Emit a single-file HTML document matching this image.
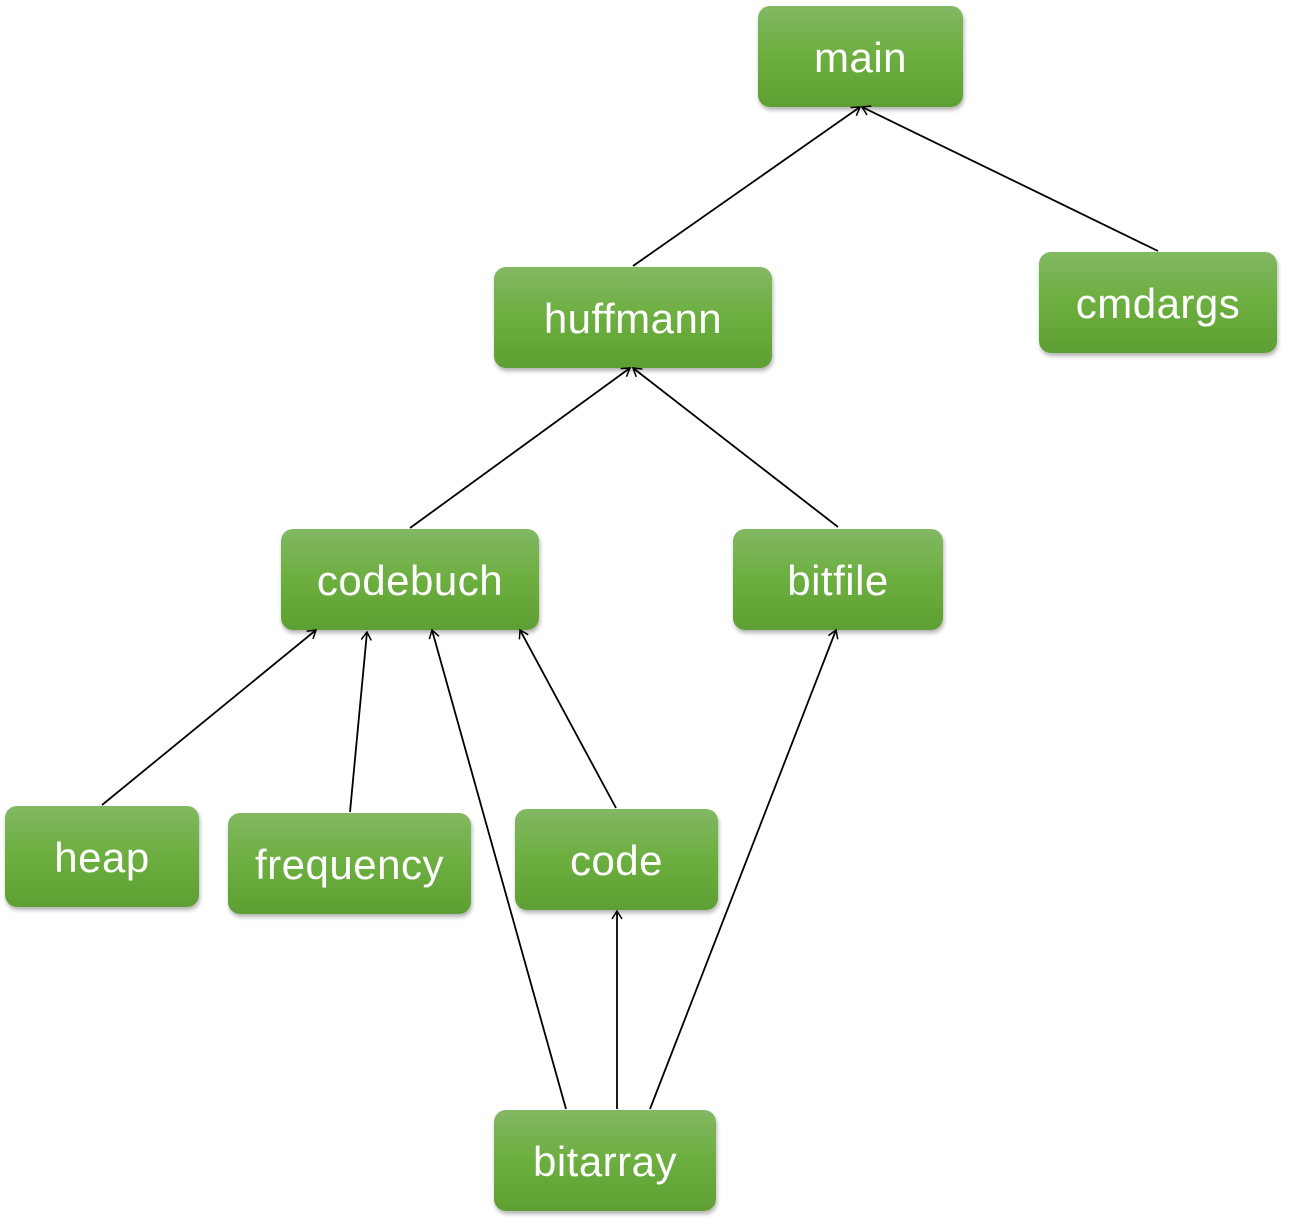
<!DOCTYPE html>
<html><head><style>
body{margin:0;width:1289px;height:1226px;background:#fff;position:relative;overflow:hidden}
.b{position:absolute;border-radius:12px;background:linear-gradient(#82b863,#6cae3f 50%,#5e9f33);box-shadow:1px 3px 4px rgba(0,0,0,.3);color:#fff;font-family:"Liberation Sans",sans-serif;font-size:42px;letter-spacing:0.5px;display:flex;align-items:center;justify-content:center;padding-top:2px;box-sizing:border-box}
svg{position:absolute;left:0;top:0}
</style></head><body>
<div class="b" style="left:758px;top:6px;width:205px;height:101px">main</div>
<div class="b" style="left:494px;top:267px;width:278px;height:101px">huffmann</div>
<div class="b" style="left:1039px;top:252px;width:238px;height:101px">cmdargs</div>
<div class="b" style="left:281px;top:529px;width:258px;height:101px">codebuch</div>
<div class="b" style="left:733px;top:529px;width:210px;height:101px">bitfile</div>
<div class="b" style="left:5px;top:806px;width:194px;height:101px">heap</div>
<div class="b" style="left:228px;top:813px;width:243px;height:101px">frequency</div>
<div class="b" style="left:515px;top:809px;width:203px;height:101px">code</div>
<div class="b" style="left:494px;top:1110px;width:222px;height:101px">bitarray</div>
<svg width="1289" height="1226">
<defs><marker id="a" markerWidth="12" markerHeight="12" refX="10" refY="6" orient="auto" markerUnits="userSpaceOnUse"><path d="M2,1 L10,6 L2,11" fill="none" stroke="#000" stroke-width="1.5"/></marker></defs>
<g stroke="#000" stroke-width="1.8" marker-end="url(#a)">
<line x1="633" y1="266" x2="860" y2="107"/>
<line x1="1158" y1="251" x2="862" y2="107"/>
<line x1="410" y1="528" x2="630" y2="368"/>
<line x1="838" y1="527" x2="633" y2="368"/>
<line x1="102" y1="805" x2="316" y2="630"/>
<line x1="350" y1="812" x2="367" y2="632"/>
<line x1="566" y1="1109" x2="432" y2="630"/>
<line x1="616" y1="808" x2="520" y2="630"/>
<line x1="617" y1="1109" x2="617" y2="911"/>
<line x1="650" y1="1109" x2="836" y2="630"/>
</g></svg>
</body></html>
